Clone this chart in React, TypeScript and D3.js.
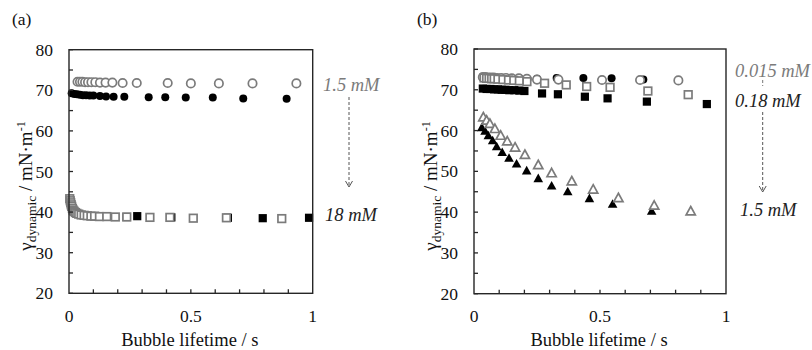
import React from "react";
import * as d3 from "d3";

// ---------- data ----------
const xTickLabels = [0, 0.5, 1];
const yTickLabels = [20, 30, 40, 50, 60, 70, 80];

// Panel (a)
const aOpenCircleT = [0.035, 0.045, 0.055, 0.066, 0.078, 0.092, 0.108, 0.127, 0.15, 0.178, 0.22, 0.278, 0.405, 0.5, 0.615, 0.753, 0.933];
const aOpenCircleG = [72.1, 72.1, 72.1, 72.0, 72.0, 72.0, 72.0, 71.9, 71.9, 71.9, 71.8, 71.8, 71.8, 71.7, 71.7, 71.7, 71.7];
const aFilledCircleT = [0.011, 0.022, 0.033, 0.045, 0.057, 0.07, 0.085, 0.1, 0.127, 0.152, 0.183, 0.227, 0.327, 0.395, 0.479, 0.59, 0.715, 0.893];
const aFilledCircleG = [69.3, 69.1, 69.0, 68.9, 68.8, 68.8, 68.7, 68.7, 68.6, 68.5, 68.4, 68.4, 68.3, 68.3, 68.2, 68.2, 68.0, 67.9];
const aOpenSquareT = [0.003, 0.005, 0.007, 0.009, 0.011, 0.014, 0.017, 0.021, 0.026, 0.032, 0.04, 0.05, 0.062, 0.075, 0.09, 0.105, 0.125, 0.155, 0.19, 0.237, 0.332, 0.414, 0.51, 0.646, 0.873];
const aOpenSquareG = [43.3, 42.8, 42.3, 41.8, 41.4, 40.9, 40.5, 40.2, 39.9, 39.7, 39.5, 39.3, 39.2, 39.1, 39.0, 39.0, 38.9, 38.9, 38.8, 38.8, 38.7, 38.7, 38.5, 38.6, 38.4];
const aFilledSquareT = [0.011, 0.032, 0.062, 0.105, 0.155, 0.237, 0.28, 0.42, 0.652, 0.795, 0.985];
const aFilledSquareG = [41.4, 39.7, 39.2, 39.0, 38.9, 38.8, 39.0, 38.7, 38.6, 38.5, 38.6];

// Panel (b)
const bOpenCircleT = [0.035, 0.045, 0.055, 0.066, 0.078, 0.092, 0.108, 0.127, 0.15, 0.178, 0.21, 0.25, 0.335, 0.508, 0.659, 0.811];
const bOpenCircleG = [73.1, 73.1, 73.0, 73.0, 73.0, 72.9, 72.9, 72.9, 72.8, 72.8, 72.7, 72.5, 72.5, 72.4, 72.4, 72.3];
const bFilledCircleT = [0.035, 0.06, 0.09, 0.13, 0.18, 0.25, 0.328, 0.434, 0.546, 0.672];
const bFilledCircleG = [73.0, 73.0, 72.9, 72.9, 72.8, 72.7, 72.9, 72.9, 72.8, 72.5];
const bOpenSquareT = [0.04, 0.05, 0.06, 0.07, 0.08, 0.095, 0.115, 0.137, 0.158, 0.18, 0.21, 0.28, 0.366, 0.447, 0.54, 0.69, 0.85];
const bOpenSquareG = [72.9, 72.8, 72.8, 72.7, 72.7, 72.6, 72.5, 72.4, 72.3, 72.2, 72.0, 71.6, 71.2, 70.8, 70.6, 69.7, 68.8];
const bFilledSquareT = [0.035, 0.05, 0.065, 0.08, 0.095, 0.11, 0.125, 0.14, 0.16, 0.18, 0.2, 0.27, 0.333, 0.44, 0.53, 0.686, 0.924];
const bFilledSquareG = [70.3, 70.2, 70.2, 70.1, 70.1, 70.0, 70.0, 69.9, 69.9, 69.8, 69.7, 69.1, 68.9, 68.3, 67.9, 67.1, 66.5];
const bOpenTriangleT = [0.037, 0.05, 0.063, 0.083, 0.106, 0.132, 0.163, 0.202, 0.255, 0.308, 0.388, 0.473, 0.573, 0.715, 0.86];
const bOpenTriangleG = [63.4, 62.6, 61.8, 60.55, 58.9, 57.5, 56.0, 54.2, 51.7, 49.7, 47.7, 45.7, 43.6, 41.75, 40.35];
const bFilledTriangleT = [0.031, 0.044, 0.057, 0.074, 0.09, 0.112, 0.139, 0.169, 0.209, 0.255, 0.308, 0.372, 0.458, 0.55, 0.705];
const bFilledTriangleG = [60.9, 60.0, 58.9, 57.7, 56.2, 54.8, 53.4, 52.0, 50.3, 48.4, 46.6, 45.2, 43.5, 42.1, 40.4];

const aLabels = ["1.5 mM", "18 mM"];
const bLabels = ["0.015 mM", "0.18 mM", "1.5 mM"];

// ---------- styling ----------
const FONT = "Liberation Serif";
const GRAY = "#7b7b7b";
const AXIS = "#262626";

type Series = { t: number[]; g: number[]; kind: "circle" | "square" | "triangle"; filled: boolean };

function zip(t: number[], g: number[]) {
  return t.map((v, i) => [v, g[i]] as [number, number]);
}

function Marker({ x, y, kind, filled }: { x: number; y: number; kind: string; filled: boolean }) {
  const fill = filled ? "#000" : "#fff";
  const stroke = filled ? "none" : GRAY;
  const sw = 1.7;
  if (kind === "circle") {
    return <circle cx={x} cy={y} r={filled ? 4 : 4.2} fill={fill} stroke={stroke} strokeWidth={sw} />;
  }
  if (kind === "square") {
    const s = filled ? 8.2 : 7.6;
    return <rect x={x - s / 2} y={y - s / 2} width={s} height={s} fill={fill} stroke={stroke} strokeWidth={sw} />;
  }
  const hw = filled ? 4.8 : 4.6;
  const hh = filled ? 4.3 : 4.2;
  return (
    <path
      d={`M${x},${y - hh}L${x + hw},${y + hh}L${x - hw},${y + hh}Z`}
      fill={fill}
      stroke={stroke}
      strokeWidth={sw}
    />
  );
}

const txt = (size: number, extra: any = {}) => ({ fontFamily: FONT, fontSize: size + "px", ...extra });

function Panel({
  left, right, top, bottom, series, tag, titleX,
}: {
  left: number; right: number; top: number; bottom: number; series: Series[]; tag: string; titleX: number;
}) {
  const x = d3.scaleLinear().domain([0, 1]).range([left, right]);
  const y = d3.scaleLinear().domain([20, 80]).range([bottom, top]);
  const xMinor = d3.range(1, 10).map((i) => i / 10);
  const yMinor = d3.range(20, 81, 5);
  const midY = 186;
  return (
    <g>
      {series.map((s, si) => (
        <g key={si}>
          {zip(s.t, s.g).map(([t, g], i) => (
            <Marker key={i} x={x(t)} y={y(g)} kind={s.kind} filled={s.filled} />
          ))}
        </g>
      ))}
      <rect x={left} y={top} width={right - left} height={bottom - top} fill="none" stroke={AXIS} strokeWidth={1.4} />
      {yMinor.map((v) => (
        <line key={"yt" + v} x1={left} x2={left + 4} y1={y(v)} y2={y(v)} stroke={AXIS} strokeWidth={1.3} />
      ))}
      {xMinor.map((v) => (
        <line key={"xt" + v} x1={x(v)} x2={x(v)} y1={bottom} y2={bottom - 4} stroke={AXIS} strokeWidth={1.3} />
      ))}
      {yTickLabels.map((v) => (
        <text key={"yl" + v} x={left - 16} y={y(v) + 6} textAnchor="end" fill="#111" style={txt(17.5)}>
          {v}
        </text>
      ))}
      {xTickLabels.map((v) => (
        <text key={"xl" + v} x={x(v)} y={321.5} textAnchor="middle" fill="#111" style={txt(17.5)}>
          {v}
        </text>
      ))}
      <text x={(left + right) / 2 - 1} y={345.5} textAnchor="middle" fill="#111" style={txt(18.5)}>
        Bubble lifetime / s
      </text>
      <text transform={`translate(${titleX},${midY}) rotate(-90)`} textAnchor="middle" fill="#111" style={txt(19)}>
        γ<tspan style={{ fontSize: "13.5px" }} dy={4}>dynamic</tspan>
        <tspan dy={-4}> / mN·m</tspan>
        <tspan style={{ fontSize: "12px" }} dy={-7}>-1</tspan>
      </text>
      <text x={left - 57} y={25} fill="#111" style={txt(17.5)}>
        {tag}
      </text>
    </g>
  );
}

function Arrow({ x, y1, y2 }: { x: number; y1: number; y2: number }) {
  return (
    <g stroke="#555" strokeWidth={1} fill="none">
      <line x1={x} x2={x} y1={y1} y2={y2} strokeDasharray="3,2" />
      <polyline points={`${x - 3.5},${y2 - 6} ${x},${y2} ${x + 3.5},${y2 - 6}`} />
    </g>
  );
}

export default function App() {
  const aSeries: Series[] = [
    { t: aFilledCircleT, g: aFilledCircleG, kind: "circle", filled: true },
    { t: aFilledSquareT, g: aFilledSquareG, kind: "square", filled: true },
    { t: aOpenCircleT, g: aOpenCircleG, kind: "circle", filled: false },
    { t: aOpenSquareT, g: aOpenSquareG, kind: "square", filled: false },
  ];
  const bSeries: Series[] = [
    { t: bFilledCircleT, g: bFilledCircleG, kind: "circle", filled: true },
    { t: bFilledSquareT, g: bFilledSquareG, kind: "square", filled: true },
    { t: bFilledTriangleT, g: bFilledTriangleG, kind: "triangle", filled: true },
    { t: bOpenCircleT, g: bOpenCircleG, kind: "circle", filled: false },
    { t: bOpenSquareT, g: bOpenSquareG, kind: "square", filled: false },
    { t: bOpenTriangleT, g: bOpenTriangleG, kind: "triangle", filled: false },
  ];
  const lab = txt(18.5, { fontStyle: "italic" });
  return (
    <svg width={812} height={350} style={{ position: "absolute", left: 0, top: 0, background: "#fff" }}>
      <rect width={812} height={350} fill="#fff" />
      <Panel left={69} right={312.7} top={49.7} bottom={293.3} series={aSeries} tag="(a)" titleX={32} />
      <Panel left={474} right={726} top={49} bottom={293.7} series={bSeries} tag="(b)" titleX={437} />
      <text x={323} y={91} fill={GRAY} style={lab}>{aLabels[0]}</text>
      <Arrow x={349} y1={97} y2={187} />
      <text x={325} y={221} fill="#222" style={lab}>{aLabels[1]}</text>
      <text x={735} y={77} fill={GRAY} style={lab}>{bLabels[0]}</text>
      <line x1={762.7} x2={762.7} y1={80} y2={86} stroke="#777" strokeWidth={1} strokeDasharray="3,2" />
      <text x={735} y={107} fill="#222" style={lab}>{bLabels[1]}</text>
      <Arrow x={762.7} y1={112} y2={192} />
      <text x={740} y={216} fill="#222" style={lab}>{bLabels[2]}</text>
    </svg>
  );
}
